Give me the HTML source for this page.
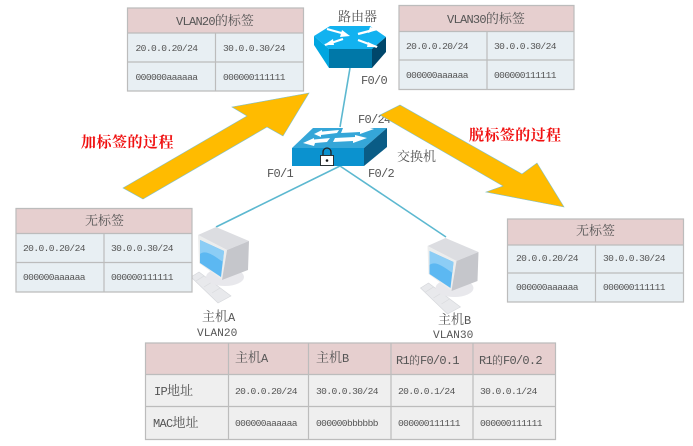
<!DOCTYPE html>
<html><head><meta charset="utf-8"><style>
html,body{margin:0;padding:0;background:#fff}
svg{display:block;filter:blur(.35px)}
text{font-family:"Liberation Mono","Noto Serif CJK SC",monospace;fill:#555}
.s{font-size:9.6px;letter-spacing:-.6px}
.m{font-size:12px;letter-spacing:-.72px}
.c{font-size:13px;letter-spacing:0;font-family:"Noto Serif CJK SC","Noto Sans CJK SC",serif}
.r{font-size:15px;font-weight:700;fill:#f01010;font-family:"Noto Serif CJK SC",serif}
.h{fill:#e6cfcf}.b{fill:#e8eff3}.g{fill:#efefef}
.l{stroke:#bcbcbc;stroke-width:1.2;fill:none}
.w{stroke:#5cb8d0;stroke-width:1.6;fill:none}
</style></head><body>
<svg width="693" height="446" viewBox="0 0 693 446" xmlns="http://www.w3.org/2000/svg">
<defs>
<g id="pc">
<polygon points="191,277 199,272 231,296 218,303" fill="#e8e9ec" stroke="#d4d6da" stroke-width=".6"/>
<path d="M196,281 L204,276 M204,287 L212,282 M212,293 L220,288" stroke="#d8dadd" stroke-width=".6"/>
<ellipse cx="225" cy="277" rx="19" ry="9" fill="#e8e8ec"/>
<polygon points="198,235 216,227 249,241 227,250" fill="#dcdde1"/>
<polygon points="198,235 227,250 222,280 199,263" fill="#eceded"/>
<polygon points="227,250 249,241 248,270 222,280" fill="#c5c6cb"/>
<polygon points="200,240 224,251 221,277 200,263" fill="#5cb8f2"/>
<path d="M200,240 L224,251 L223,262 C212,254 205,250 200,254Z" fill="#8ccdf5"/>
</g>
</defs>

<line class="w" x1="350" y1="68" x2="340" y2="127"/>
<line class="w" x1="340" y1="166" x2="216" y2="227"/>
<line class="w" x1="340" y1="166" x2="446" y2="237"/>

<!-- router -->
<polygon points="314,36 330,26 370,26 386,37 372,49 329,49" fill="#12b2f0"/>
<polygon points="314,36 329,49 329,68 314,45" fill="#00a6e0"/>
<polygon points="329,49 372,49 372,68 329,68" fill="#0078a8"/>
<polygon points="372,49 386,37 386,52 372,68" fill="#00476b"/>
<g stroke="#fff" stroke-width="2.200" fill="none">
<path d="M327,29 L345,34"/>
<path d="M377,29 L358,34"/>
<path d="M325,45 L343,39"/>
<path d="M377,47 L358,40"/>
</g>
<g fill="#fff">
<polygon points="342,30 350,36 340,37"/>
<polygon points="370,27 378,29 368,33"/>
<polygon points="324,45 333,39 334,45"/>
<polygon points="378,47 368,42 367,47"/>
</g>

<!-- switch -->
<polygon points="313,128 387,128 364,148 292,148" fill="#35a6d8"/>
<polygon points="292,148 364,148 364,166 292,166" fill="#0b92cf"/>
<polygon points="364,148 387,128 387,147 364,166" fill="#0a5c86"/>
<g fill="#fff">
<polygon points="314,134 322,130 322,131.500 339,130 337,133 321,135 321,137"/>
<polygon points="343,128 362,128 362,126 374,129 360,134 360,132 341,133"/>
<polygon points="303,143 314,138 314,139.500 330,138 327,142 315,143 314,146"/>
<polygon points="335,138 355,137 355,135 367,138 353,143 353,141 333,142"/>
</g>
<rect x="320.500" y="155.500" width="13" height="10" fill="#fff" stroke="#222" stroke-width=".9"/>
<path d="M323,155 V152 a4,4 0 0 1 8,0 V155" fill="none" stroke="#222" stroke-width="1.300"/>
<circle cx="327" cy="160.500" r="1.300" fill="#111"/>

<use href="#pc"/>
<use href="#pc" x="229.500" y="11"/>

<!-- Table 1 -->
<rect class="h" x="127.500" y="8" width="176" height="25"/><rect class="b" x="127.500" y="33" width="176" height="58"/>
<path class="l" d="M127.500,8H303.500V91H127.500ZM127.500,33H303.500M127.500,62H303.500M215.500,33V91"/>
<text x="176" y="25" class="m">VLAN20<tspan class="c">的标签</tspan></text>
<text x="135.500" y="51" class="s">20.0.0.20/24</text><text x="223" y="51" class="s">30.0.0.30/24</text>
<text x="135.500" y="80" class="s">000000aaaaaa</text><text x="223" y="80" class="s">000000111111</text>

<!-- Table 2 -->
<rect class="h" x="399" y="5.500" width="175" height="26"/><rect class="b" x="399" y="31.500" width="175" height="58"/>
<path class="l" d="M399,5.500H574V89.500H399ZM399,31.500H574M399,60H574M487,31.500V89.500"/>
<text x="447" y="23" class="m">VLAN30<tspan class="c">的标签</tspan></text>
<text x="406" y="49" class="s">20.0.0.20/24</text><text x="494" y="49" class="s">30.0.0.30/24</text>
<text x="406" y="78" class="s">000000aaaaaa</text><text x="494" y="78" class="s">000000111111</text>

<!-- Table 3 -->
<rect class="h" x="16" y="208.500" width="176" height="25"/><rect class="b" x="16" y="233.500" width="176" height="59"/>
<path class="l" d="M16,208.500H192V292H16ZM16,233.500H192M16,262.500H192M104,233.500V292"/>
<text x="85" y="225" class="c">无标签</text>
<text x="23" y="251" class="s">20.0.0.20/24</text><text x="111" y="251" class="s">30.0.0.30/24</text>
<text x="23" y="280" class="s">000000aaaaaa</text><text x="111" y="280" class="s">000000111111</text>

<!-- Table 4 -->
<rect class="h" x="507.500" y="219" width="176" height="26"/><rect class="b" x="507.500" y="245" width="176" height="57"/>
<path class="l" d="M507.500,219H683.500V302H507.500ZM507.500,245H683.500M507.500,273H683.500M595.500,245V302"/>
<text x="576" y="235" class="c">无标签</text>
<text x="516" y="261" class="s">20.0.0.20/24</text><text x="603" y="261" class="s">30.0.0.30/24</text>
<text x="516" y="290" class="s">000000aaaaaa</text><text x="603" y="290" class="s">000000111111</text>

<!-- Bottom table -->
<rect class="h" x="145.500" y="343" width="410" height="31.500"/><rect class="g" x="145.500" y="374.500" width="410" height="65"/>
<path class="l" d="M145.500,343H555.500V439.500H145.500ZM145.500,374.500H555.500M145.500,406.500H555.500M228.500,343V439.500M308.500,343V439.500M391,343V439.500M473,343V439.500"/>
<text x="235" y="362" class="m"><tspan class="c">主机</tspan>A</text>
<text x="316" y="362" class="m"><tspan class="c">主机</tspan>B</text>
<text x="396" y="364" class="m">R1<tspan class="c" style="font-size:11px">的</tspan>F0/0.1</text>
<text x="479" y="364" class="m">R1<tspan class="c" style="font-size:11px">的</tspan>F0/0.2</text>
<text x="154" y="395" class="m">IP<tspan class="c">地址</tspan></text>
<text x="153" y="427" class="m">MAC<tspan class="c">地址</tspan></text>
<text x="235" y="394" class="s">20.0.0.20/24</text><text x="316" y="394" class="s">30.0.0.30/24</text>
<text x="398" y="394" class="s">20.0.0.1/24</text><text x="480" y="394" class="s">30.0.0.1/24</text>
<text x="235" y="426" class="s">000000aaaaaa</text><text x="316" y="426" class="s">000000bbbbbb</text>
<text x="398" y="426" class="s">000000111111</text><text x="480" y="426" class="s">000000111111</text>

<!-- device labels -->
<text x="338" y="21" class="c">路由器</text>
<text x="397" y="161" class="c">交换机</text>
<text x="361" y="84" class="m">F0/0</text>
<text x="358" y="123" class="m">F0/24</text>
<text x="267" y="177" class="m">F0/1</text>
<text x="368" y="177" class="m">F0/2</text>
<text x="202" y="321" class="m"><tspan class="c">主机</tspan>A</text>
<text x="197" y="336" class="m" style="font-size:11.200px;letter-spacing:0">VLAN20</text>
<text x="438" y="324" class="m"><tspan class="c">主机</tspan>B</text>
<text x="433" y="338" class="m" style="font-size:11.200px;letter-spacing:0">VLAN30</text>

<!-- arrows -->
<polygon points="123,188 143,199 267,127 283,136 309,93 232,107 247,116" fill="#ffbb00" stroke="#7fbfc8" stroke-width=".6"/>
<polygon points="380,115 400,105 522,174 537,163 564,207 486,192 503,186" fill="#ffbb00" stroke="#7fbfc8" stroke-width=".6"/>

<text x="81" y="147" class="r" style="letter-spacing:.5px">加标签的过程</text>
<text x="469" y="140" class="r" style="letter-spacing:.4px">脱标签的过程</text>
</svg>
</body></html>
